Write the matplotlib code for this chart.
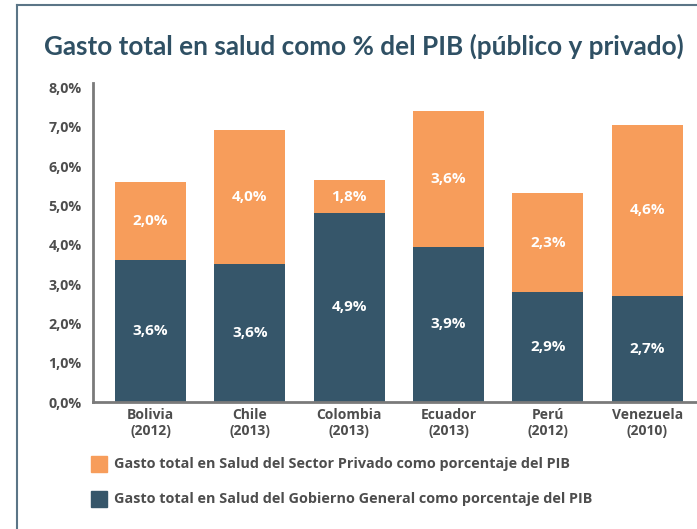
import matplotlib.pyplot as plt
from matplotlib.patches import Rectangle
from matplotlib.lines import Line2D

# data
paises = ['Bolivia\n(2012)', 'Chile\n(2013)', 'Colombia\n(2013)',
          'Ecuador\n(2013)', 'Perú\n(2012)', 'Venezuela\n(2010)']
gobierno = [3.62, 3.52, 4.82, 3.95, 2.80, 2.70]
privado = [1.99, 3.41, 0.82, 3.46, 2.52, 4.36]
etiq_gobierno = ['3,6%', '3,6%', '4,9%', '3,9%', '2,9%', '2,7%']
etiq_privado = ['2,0%', '4,0%', '1,8%', '3,6%', '2,3%', '4,6%']
yticks = [0, 1, 2, 3, 4, 5, 6, 7, 8]
yticklabels = ['0,0%', '1,0%', '2,0%', '3,0%', '4,0%', '5,0%', '6,0%', '7,0%', '8,0%']

C_PRIV = '#f79d5b'
C_GOB = '#36566a'
C_TXT = '#4d4d4d'
C_TITLE = '#2f5064'
FONT = 'Open Sans'

fig = plt.figure(figsize=(6.97, 5.29), dpi=100)
fig.patch.set_facecolor('white')

# frame lines (left and top)
fig.add_artist(Line2D([17 / 697, 17 / 697], [0, 1 - 5 / 529], color='#5b7587', lw=1.5))
fig.add_artist(Line2D([17 / 697, 1], [1 - 5 / 529, 1 - 5 / 529], color='#5b7587', lw=1.5))

ax = fig.add_axes([93 / 697, 1 - 402 / 529, 1.02 - 93 / 697, (402 - 83) / 529])
x = range(len(paises))
ax.bar(x, gobierno, width=0.714, color=C_GOB, zorder=2)
ax.bar(x, privado, width=0.714, bottom=gobierno, color=C_PRIV, zorder=2)

for i in x:
    ax.text(i, gobierno[i] / 2, etiq_gobierno[i], ha='center', va='center',
            color='white', fontsize=11, fontweight='bold', family=FONT)
    ax.text(i, gobierno[i] + privado[i] / 2, etiq_privado[i], ha='center', va='center',
            color='white', fontsize=11, fontweight='bold', family=FONT)

ax.set_xlim(-0.578, 5.5 + 0.02 * 697 / 99.4)
ax.set_ylim(0, 8.12)
ax.set_yticks(yticks)
ax.set_yticklabels(yticklabels, fontsize=10.3, fontweight='bold', color=C_TXT, family=FONT)
ax.set_xticks(list(x))
ax.set_xticklabels(paises, fontsize=10, fontweight='bold', color=C_TXT, family=FONT,
                   linespacing=1.25)
ax.tick_params(axis='both', length=0)
ax.tick_params(axis='y', pad=8)
ax.tick_params(axis='x', pad=4)
for s in ['top', 'right']:
    ax.spines[s].set_visible(False)
for s in ['left', 'bottom']:
    ax.spines[s].set_color('#7a7a7a')
    ax.spines[s].set_linewidth(2)

fig.text(364 / 697, 1 - 46 / 529, 'Gasto total en salud como % del PIB (público y privado)',
         ha='center', va='center', fontsize=18.8, fontweight='bold', color=C_TITLE, family='Lato')

# legend
for yy, col, lab in [(464, C_PRIV, 'Gasto total en Salud del Sector Privado como porcentaje del PIB'),
                     (499, C_GOB, 'Gasto total en Salud del Gobierno General como porcentaje del PIB')]:
    fig.add_artist(Rectangle((91 / 697, 1 - (yy + 8) / 529), 16 / 697, 16 / 529,
                             color=col, transform=fig.transFigure))
    fig.text(114 / 697, 1 - yy / 529, lab, ha='left', va='center', fontsize=10.4,
             fontweight='bold', color=C_TXT, family=FONT)

fig.savefig('out.png', dpi=100)
